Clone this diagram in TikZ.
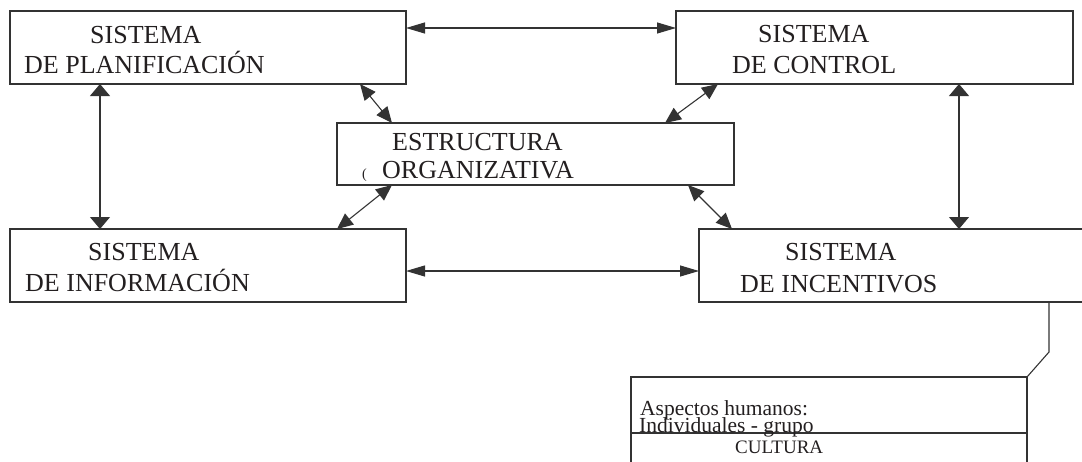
\documentclass[tikz,border=0pt]{standalone}
\usepackage{fontspec}
\setmainfont{Liberation Serif}
\usetikzlibrary{arrows.meta}
\definecolor{ln}{HTML}{333333}
\definecolor{tx}{HTML}{231F20}
\begin{document}
\begin{tikzpicture}[x=1pt,y=-1pt,
  box/.style={draw=ln,line width=1.2pt,inner sep=0pt,outer sep=0pt,anchor=north west,minimum width=#1},
  box/.default=396pt,
  big/.style={anchor=base west,inner sep=0pt,text=tx,font=\fontsize{26}{30}\selectfont},
  small/.style={anchor=base west,inner sep=0pt,text=tx,font=\fontsize{21.5}{24}\selectfont},
  harr/.style={ln,line width=1.1pt,{Triangle[length=19pt,width=11pt]}-{Triangle[length=19pt,width=11pt]}},
  varr/.style={ln,line width=1.1pt,{Triangle[length=12pt,width=20pt]}-{Triangle[length=12pt,width=20pt]}},
  darr/.style={ln,line width=1.1pt,{Triangle[length=16pt,width=14pt]}-{Triangle[length=16pt,width=14pt]}},
  link/.style={ln,line width=1.1pt}]
\useasboundingbox (0,0) rectangle (1082,461);
% boxes
\node[box=396pt,minimum height=73pt] (b1) at (10,11) {};
\node[box=397pt,minimum height=73pt] (b2) at (676,11) {};
\node[box=397pt,minimum height=62pt] (b3) at (337,123) {};
\node[box=396pt,minimum height=73pt] (b4) at (10,229) {};
\node[box=396pt,minimum height=73pt] (b5) at (699,229) {};
\node[box=396pt,minimum height=100pt] (b6) at (631,377) {};
\draw[link] (b6.west |- 0,433) coordinate (d1) -- (b6.east |- 0,433) coordinate (d2);
% texts
\node[big] (t1a) at (90,43) {SISTEMA};
\node[big] (t1b) at (24,73) {DE PLANIFICACIÓN};
\node[big] (t2a) at (758,42) {SISTEMA};
\node[big] (t2b) at (732,73) {DE CONTROL};
\node[big] (t3a) at (392,150) {ESTRUCTURA};
\node[big] (t3b) at (382,178) {ORGANIZATIVA};
\node[anchor=base west,inner sep=0pt,text=tx,font=\fontsize{14}{16}\selectfont] (t3c) at (362,178) {(};
\node[big] (t4a) at (88,260) {SISTEMA};
\node[big] (t4b) at (25,291) {DE INFORMACIÓN};
\node[big] (t5a) at (785,260) {SISTEMA};
\node[big] (t5b) at (740,292) {DE INCENTIVOS};
\node[small] (t6a) at (640,415) {Aspectos humanos:};
\node[small] (t6b) at (639,432) {Individuales - grupo};
\node[anchor=base west,inner sep=0pt,text=tx,font=\fontsize{19}{22}\selectfont] (t6c) at (735,453) {CULTURA};
% connectors
\draw[harr] ([yshift=-17pt]b1.north east) -- ([yshift=-17pt]b2.north west);
\draw[harr] ([yshift=-42pt]b4.north east) -- ([yshift=-42pt]b5.north west);
\draw[varr] ([xshift=90pt]b1.south west) -- ([xshift=90pt]b4.north west);
\draw[varr] ([xshift=283pt]b2.south west) -- ([xshift=260pt]b5.north west);
\draw[darr] ([xshift=350pt]b1.south west) -- ([xshift=55pt]b3.north west);
\draw[darr] ([xshift=42pt]b2.south west) -- ([xshift=328pt]b3.north west);
\draw[darr] ([xshift=55pt]b3.south west) -- ([xshift=327pt]b4.north west);
\draw[darr] ([xshift=351pt]b3.south west) -- ([xshift=33pt]b5.north west);
\coordinate (k) at ([xshift=350pt,yshift=-50pt]b5.south west);
\draw[link] ([xshift=350pt]b5.south west) -- (k) -- (b6.north east);
\end{tikzpicture}
\end{document}
